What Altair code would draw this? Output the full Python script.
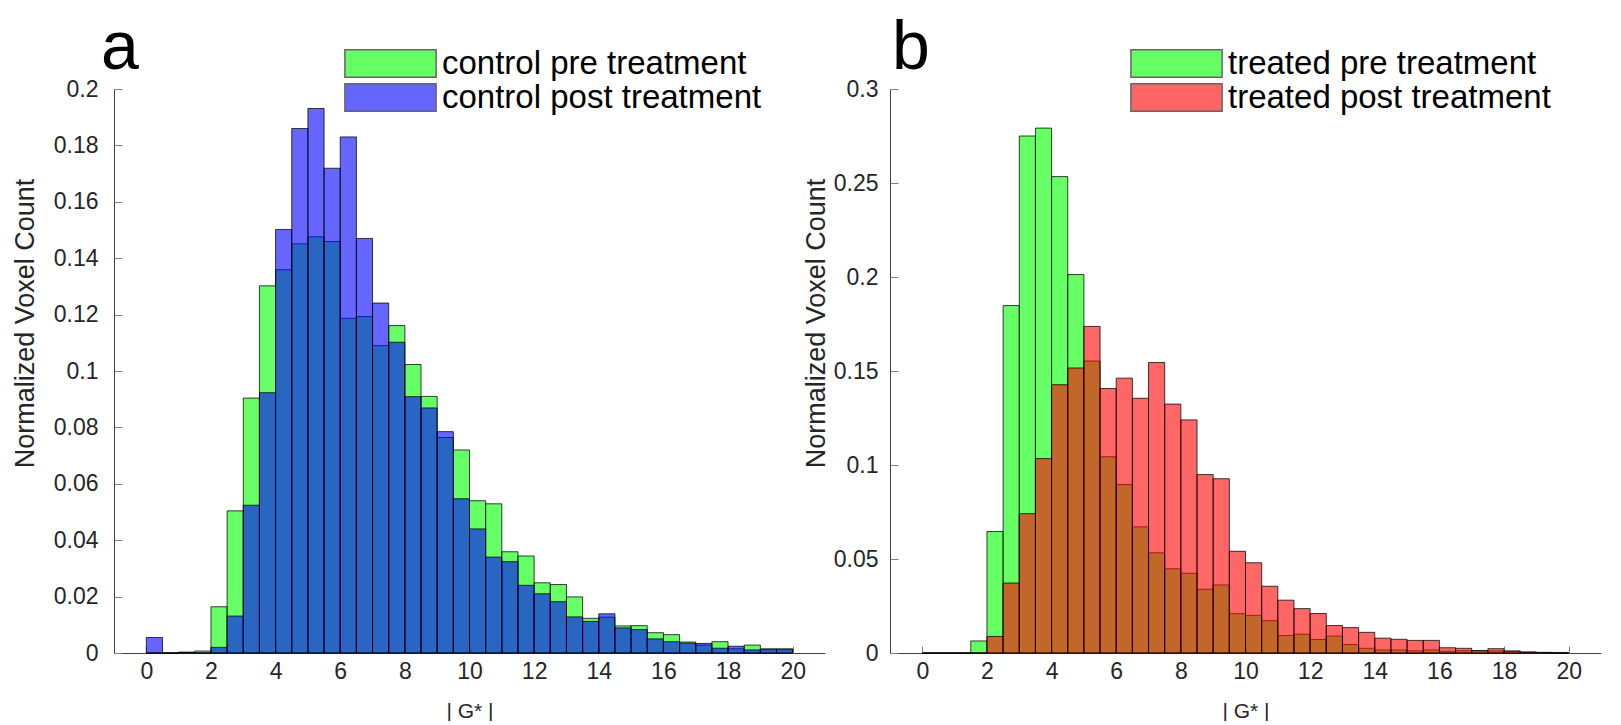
import altair as alt
import pandas as pd

# bin left edges (width 0.5) of |G*|
bin_lo = [0.0, 0.5, 1.0, 1.5, 2.0, 2.5, 3.0, 3.5, 4.0, 4.5,
          5.0, 5.5, 6.0, 6.5, 7.0, 7.5, 8.0, 8.5, 9.0, 9.5,
          10.0, 10.5, 11.0, 11.5, 12.0, 12.5, 13.0, 13.5, 14.0, 14.5,
          15.0, 15.5, 16.0, 16.5, 17.0, 17.5, 18.0, 18.5, 19.0, 19.5]
bin_w = 0.5

control_pre = [0.0, 0.0, 0.0003, 0.0007, 0.0164, 0.0504, 0.0904, 0.1302, 0.1359, 0.1451,
               0.1476, 0.1459, 0.1187, 0.1193, 0.1090, 0.1161, 0.1023, 0.0910, 0.0764, 0.0720,
               0.0540, 0.0529, 0.0359, 0.0344, 0.0249, 0.0243, 0.0199, 0.0123, 0.0127, 0.0096,
               0.0097, 0.0072, 0.0065, 0.0039, 0.0028, 0.0040, 0.0015, 0.0028, 0.0015, 0.0015]
control_post = [0.0055, 0.0, 0.0002, 0.0, 0.0020, 0.0131, 0.0524, 0.0923, 0.1502, 0.1860,
                0.1931, 0.1719, 0.1830, 0.1470, 0.1241, 0.1102, 0.0909, 0.0869, 0.0785, 0.0547,
                0.0440, 0.0340, 0.0324, 0.0240, 0.0210, 0.0182, 0.0128, 0.0112, 0.0139, 0.0089,
                0.0083, 0.0050, 0.0040, 0.0035, 0.0034, 0.0017, 0.0024, 0.0011, 0.0012, 0.0012]
treated_pre = [0.0, 0.0, 0.0, 0.0064, 0.0646, 0.1848, 0.2750, 0.2792, 0.2534, 0.2013,
               0.1553, 0.1044, 0.0896, 0.0671, 0.0533, 0.0448, 0.0424, 0.0339, 0.0362, 0.0209,
               0.0200, 0.0172, 0.0093, 0.0100, 0.0072, 0.0090, 0.0045, 0.0025, 0.0016, 0.0016,
               0.0012, 0.0016, 0.0009, 0.0012, 0.0013, 0.0011, 0.0009, 0.0005, 0.0003, 0.0001]
treated_post = [0.0, 0.0, 0.0, 0.0, 0.0088, 0.0372, 0.0741, 0.1034, 0.1427, 0.1516,
                0.1737, 0.1407, 0.1462, 0.1355, 0.1545, 0.1324, 0.1240, 0.0949, 0.0927, 0.0541,
                0.0480, 0.0355, 0.0281, 0.0236, 0.0210, 0.0146, 0.0135, 0.0110, 0.0079, 0.0073,
                0.0067, 0.0067, 0.0028, 0.0025, 0.0012, 0.0023, 0.0011, 0.0005, 0.0003, 0.0001]

labels_a = ["control pre treatment", "control post treatment"]
labels_b = ["treated pre treatment", "treated post treatment"]
colors_a = ["#00ff00", "#0000ff"]
colors_b = ["#00ff00", "#ff0000"]

x_ticks = [0, 2, 4, 6, 8, 10, 12, 14, 16, 18, 20]
y_ticks_a = [0, 0.02, 0.04, 0.06, 0.08, 0.1, 0.12, 0.14, 0.16, 0.18, 0.2]
y_ticks_b = [0, 0.05, 0.1, 0.15, 0.2, 0.25, 0.3]

FONT = "Liberation Sans"
W, H = 711, 564
TXT = "#262626"
AX = "#404040"


def make_df(pre, post, labels):
    rows = []
    for lab, vals in ((labels[0], pre), (labels[1], post)):
        for lo, v in zip(bin_lo, vals):
            rows.append({"lo": lo, "hi": lo + bin_w, "v": v, "series": lab})
    return pd.DataFrame(rows)


def panel(df, labels, colors, ymax, yticks, letter, letter_dx, legend_x,
          title_x, title_y, label_pad):
    xscale = alt.Scale(domain=[-1, 21], nice=False, zero=False)
    yscale = alt.Scale(domain=[0, ymax], nice=False)
    base = alt.Chart(df)
    bars = base.mark_rect(fillOpacity=0.6, stroke="black", strokeOpacity=0.75,
                          strokeWidth=1).encode(
        x=alt.X("lo:Q", scale=xscale,
                axis=alt.Axis(values=x_ticks, title="| G* |", ticks=False, grid=False,
                              labelFont=FONT, labelFontSize=23, labelColor=TXT,
                              labelPadding=7, domainColor=AX, titleFont=FONT,
                              titleFontSize=21, titleFontWeight="normal",
                              titleColor=TXT, titlePadding=17, labelFlush=False)),
        x2="hi:Q",
        y=alt.Y("v:Q", stack=None, scale=yscale,
                axis=alt.Axis(values=yticks, format="~g", title="Normalized Voxel Count",
                              ticks=False, grid=False, labelFont=FONT, labelFontSize=23,
                              labelColor=TXT, labelPadding=label_pad, domainColor=AX,
                              titleFont=FONT, titleFontSize=27, titleFontWeight="normal",
                              titleColor=TXT, titleX=title_x, titleY=title_y,
                              titleAngle=270, titleAlign="center",
                              titleBaseline="alphabetic", labelFlush=False)),
        y2=alt.datum(0),
        color=alt.Color("series:N", scale=alt.Scale(domain=labels, range=colors),
                        legend=alt.Legend(
                            title=None, orient="none", legendX=legend_x, legendY=-42,
                            symbolType="M-3.8,-1.15H3.8V1.15H-3.8Z", symbolSize=576,
                            symbolOpacity=0.6, symbolStrokeColor="black",
                            symbolStrokeWidth=1.5, labelFont=FONT, labelFontSize=33,
                            labelColor="black", labelOffset=35, rowPadding=-9,
                            padding=0, labelLimit=600)),
    )
    inner_ticks = base.mark_rect(opacity=0).encode(
        x=alt.X("lo:Q", scale=xscale,
                axis=alt.Axis(orient="top", offset=-H, values=x_ticks, labels=False,
                              domain=False, ticks=True, tickSize=7, tickColor="#808080",
                              grid=False, title=None)),
        x2="hi:Q",
        y=alt.Y("v:Q", stack=None, scale=yscale,
                axis=alt.Axis(orient="right", offset=-W, values=yticks, labels=False,
                              domain=False, ticks=True, tickSize=8, tickColor="#808080",
                              grid=False, title=None)),
        y2=alt.datum(0),
    )
    return alt.layer(bars, inner_ticks).resolve_scale(
        x="independent", y="independent"
    ).properties(
        width=W, height=H,
        title=alt.TitleParams(letter, anchor="start", frame="group", fontSize=68,
                              font=FONT, fontWeight="normal", color="black",
                              dx=letter_dx, offset=-36),
    )


pa = panel(make_df(control_pre, control_post, labels_a), labels_a, colors_a, 0.2,
           y_ticks_a, "a", -13, 260, -81, 234, 16)
pb = panel(make_df(treated_pre, treated_post, labels_b), labels_b, colors_b, 0.3,
           y_ticks_b, "b", 2, 270, -66, 234, 12)

chart = alt.hconcat(pa, pb, spacing=65, bounds="flush").resolve_scale(
    color="independent"
).configure_view(stroke=None).properties(
    padding={"left": 3, "top": 7, "right": 5, "bottom": 0},
    background="white",
)

chart.save("out.html", embed_options={"renderer": "svg", "actions": False})
